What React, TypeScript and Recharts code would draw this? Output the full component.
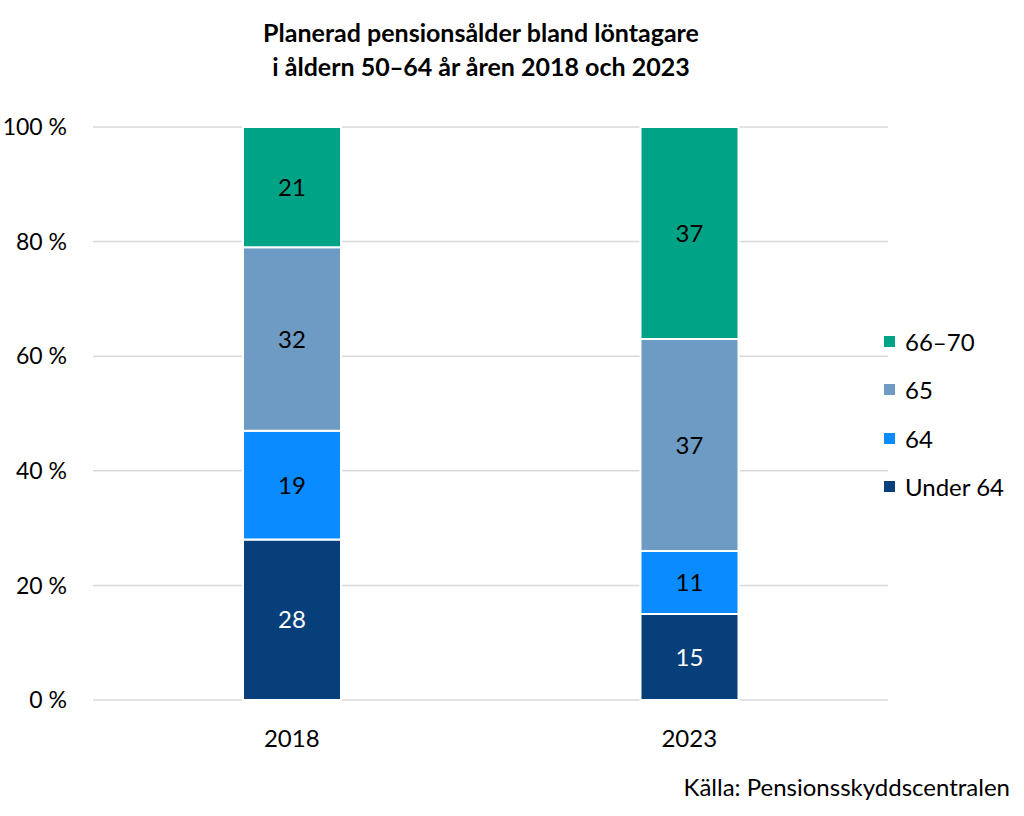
import React from "react";
import { BarChart, Bar, XAxis, YAxis, CartesianGrid, LabelList } from "recharts";

const years = ["2018", "2023"];
const under64 = [28, 15];
const age64 = [19, 11];
const age65 = [32, 37];
const age6670 = [21, 37];
const yTicks = [0, 20, 40, 60, 80, 100];

const series = [
  { key: "u64", name: "Under 64", color: "#073f7a", label: "#ffffff" },
  { key: "a64", name: "64", color: "#0a8bff", label: "#000000" },
  { key: "a65", name: "65", color: "#6d9bc3", label: "#000000" },
  { key: "a6670", name: "66\u201370", color: "#00a385", label: "#000000" },
];

const data = years.map((y, i) => ({
  year: y,
  u64: under64[i],
  a64: age64[i],
  a65: age65[i],
  a6670: age6670[i],
}));

const FONT = "Lato, 'Noto Sans', sans-serif";

export default function App() {
  const legendItems = [...series].reverse();
  return (
    <div style={{ position: "absolute", left: 0, top: 0, width: 1024, height: 816, background: "#fff", fontFamily: FONT }}>
      <div style={{ position: "absolute", left: 0, top: 15, width: 962, textAlign: "center", fontWeight: 700, fontSize: 25, lineHeight: "34px", color: "#000" }}>
        Planerad pensionsålder bland löntagare
        <br />
        i åldern 50‒64 år åren 2018 och 2023
      </div>
      <BarChart
        width={1024}
        height={816}
        data={data}
        margin={{ top: 127, right: 136, bottom: 86, left: 0 }}
        barSize={98}
      >
        <CartesianGrid vertical={false} stroke="#d9d9d9" strokeWidth={1.5} />
        <XAxis
          dataKey="year"
          height={30}
          axisLine={false}
          tickLine={false}
          tickMargin={24}
          tick={{ fill: "#000", fontSize: 24, fontFamily: FONT }}
        />
        <YAxis
          width={93}
          domain={[0, 100]}
          ticks={yTicks}
          axisLine={false}
          tickLine={false}
          tickMargin={20}
          tickFormatter={(v) => `${v} %`}
          tick={{ fill: "#000", fontSize: 23, fontFamily: FONT }}
        />
        {series.map((s) => (
          <Bar key={s.key} dataKey={s.key} name={s.name} stackId="a" fill={s.color} stroke="#fff" strokeWidth={2} isAnimationActive={false}>
            <LabelList dataKey={s.key} position="center" fill={s.label} style={{ fontSize: 24, fontFamily: FONT }} />
          </Bar>
        ))}
      </BarChart>
      {legendItems.map((s, i) => (
        <div key={s.key} style={{ position: "absolute", left: 884, top: 327 + i * 48.5, height: 28, display: "flex", alignItems: "center", fontSize: 24, color: "#000" }}>
          <span style={{ display: "inline-block", width: 11, height: 11, background: s.color, marginRight: 10 }} />
          {s.name}
        </div>
      ))}
      <div style={{ position: "absolute", right: 14, top: 772, fontSize: 24, color: "#000" }}>
        Källa: Pensionsskyddscentralen
      </div>
    </div>
  );
}
